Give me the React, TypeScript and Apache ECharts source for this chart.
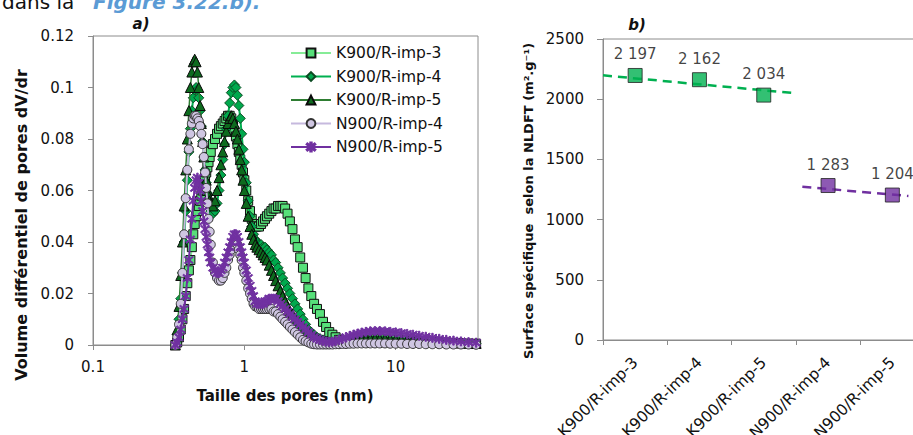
import React, { useEffect, useRef } from 'react';
import * as echarts from 'echarts';

// ---------- Data: pore size distribution (a) ----------
const poreSize = [
  0.35, 0.36, 0.37, 0.38, 0.39, 0.40, 0.41, 0.42, 0.43, 0.44,
  0.45, 0.46, 0.47, 0.48, 0.49, 0.50, 0.51, 0.52, 0.53, 0.54,
  0.55, 0.56, 0.57, 0.58, 0.59, 0.60, 0.62, 0.64, 0.66, 0.68,
  0.70, 0.72, 0.74, 0.76, 0.78, 0.80, 0.82, 0.84, 0.86, 0.88,
  0.90, 0.92, 0.94, 0.96, 0.98, 1.00, 1.03, 1.06, 1.09, 1.12,
  1.15, 1.18, 1.21, 1.25, 1.29, 1.33, 1.37, 1.41, 1.46, 1.51,
  1.56, 1.61, 1.67, 1.73, 1.79, 1.86, 1.93, 2.00, 2.08, 2.16,
  2.25, 2.34, 2.44, 2.54, 2.65, 2.77, 2.89, 3.02, 3.16, 3.31,
  3.47, 3.64, 3.82, 4.01, 4.22, 4.45, 4.70, 4.97, 5.27, 5.60,
  5.96, 6.36, 6.80, 7.30, 7.85, 8.50, 9.20, 10.0, 10.9, 11.9,
  13.0, 14.3, 15.8, 17.5, 19.4, 21.6, 24.1, 27.0, 30.3, 34.0,
];

const k900imp3 = [
  0, 0.001, 0.003, 0.006, 0.010, 0.014, 0.019, 0.024, 0.029, 0.033,
  0.038, 0.043, 0.047, 0.050, 0.052, 0.054, 0.056, 0.058, 0.060, 0.062,
  0.065, 0.067, 0.069, 0.071, 0.073, 0.075, 0.078, 0.080, 0.082, 0.084,
  0.085, 0.086, 0.087, 0.088, 0.089, 0.089, 0.088, 0.086, 0.083, 0.081,
  0.078, 0.075, 0.072, 0.070, 0.067, 0.064, 0.060, 0.056, 0.052, 0.049,
  0.047, 0.046, 0.046, 0.046, 0.047, 0.048, 0.049, 0.050, 0.051, 0.052,
  0.053, 0.053, 0.054, 0.054, 0.054, 0.053, 0.051, 0.048, 0.045, 0.041,
  0.038, 0.034, 0.030, 0.026, 0.022, 0.019, 0.016, 0.014, 0.012, 0.009,
  0.007, 0.005, 0.004, 0.003, 0.002, 0.0015, 0.0013, 0.0013, 0.0015, 0.0017,
  0.0019, 0.0020, 0.0021, 0.0022, 0.0022, 0.0022, 0.0021, 0.0020, 0.0019, 0.0018,
  0.0017, 0.0015, 0.0014, 0.0012, 0.0011, 0.0010, 0.0008, 0.0007, 0.0006, 0.0005,
];

const k900imp4 = [
  0, 0.004, 0.010, 0.018, 0.028, 0.040, 0.052, 0.064, 0.075, 0.084,
  0.091, 0.096, 0.099, 0.100, 0.099, 0.096, 0.091, 0.085, 0.079, 0.073,
  0.068, 0.063, 0.059, 0.056, 0.054, 0.052, 0.051, 0.052, 0.055, 0.060,
  0.066, 0.072, 0.078, 0.084, 0.089, 0.094, 0.098, 0.100, 0.101, 0.100,
  0.097, 0.093, 0.088, 0.082, 0.076, 0.071, 0.063, 0.056, 0.050, 0.046,
  0.043, 0.041, 0.040, 0.039, 0.039, 0.038, 0.038, 0.037, 0.036, 0.035,
  0.033, 0.032, 0.030, 0.028, 0.026, 0.024, 0.022, 0.020, 0.018, 0.016,
  0.014, 0.012, 0.010, 0.008, 0.006, 0.005, 0.004, 0.003, 0.0025, 0.002,
  0.0015, 0.0012, 0.0010, 0.0009, 0.0010, 0.0011, 0.0013, 0.0015, 0.0017, 0.0019,
  0.0020, 0.0021, 0.0022, 0.0022, 0.0022, 0.0021, 0.0020, 0.0019, 0.0018, 0.0017,
  0.0015, 0.0014, 0.0013, 0.0012, 0.0010, 0.0009, 0.0008, 0.0007, 0.0006, 0.0005,
];

const k900imp5 = [
  0, 0.006, 0.015, 0.027, 0.040, 0.054, 0.068, 0.080, 0.091, 0.100,
  0.106, 0.110, 0.111, 0.110, 0.106, 0.100, 0.093, 0.086, 0.079, 0.073,
  0.068, 0.064, 0.060, 0.058, 0.056, 0.055, 0.054, 0.056, 0.060, 0.065,
  0.070, 0.075, 0.079, 0.083, 0.086, 0.088, 0.089, 0.088, 0.086, 0.083,
  0.080, 0.076, 0.072, 0.068, 0.064, 0.060, 0.055, 0.050, 0.046, 0.043,
  0.041, 0.039, 0.038, 0.037, 0.036, 0.035, 0.034, 0.033, 0.031, 0.029,
  0.027, 0.025, 0.023, 0.021, 0.019, 0.017, 0.015, 0.013, 0.012, 0.010,
  0.009, 0.008, 0.007, 0.006, 0.005, 0.004, 0.003, 0.0025, 0.002, 0.0016,
  0.0013, 0.0011, 0.0010, 0.0010, 0.0011, 0.0012, 0.0014, 0.0016, 0.0018, 0.0020,
  0.0022, 0.0023, 0.0024, 0.0024, 0.0024, 0.0023, 0.0022, 0.0021, 0.0020, 0.0018,
  0.0017, 0.0015, 0.0014, 0.0012, 0.0011, 0.0010, 0.0009, 0.0008, 0.0007, 0.0006,
];

const n900imp4 = [
  0, 0.003, 0.008, 0.016, 0.028, 0.043, 0.057, 0.068, 0.076, 0.082,
  0.086, 0.088, 0.089, 0.089, 0.088, 0.087, 0.085, 0.082, 0.078, 0.073,
  0.067, 0.061, 0.055, 0.049, 0.044, 0.039, 0.032, 0.028, 0.026, 0.025,
  0.025, 0.026, 0.028, 0.030, 0.033, 0.035, 0.037, 0.039, 0.040, 0.040,
  0.039, 0.037, 0.035, 0.033, 0.030, 0.028, 0.025, 0.022, 0.020, 0.018,
  0.016, 0.015, 0.015, 0.014, 0.014, 0.014, 0.014, 0.014, 0.014, 0.014,
  0.013, 0.013, 0.012, 0.011, 0.010, 0.009, 0.008, 0.007, 0.006, 0.005,
  0.004, 0.003, 0.002, 0.0015, 0.001, 0.0005, 0.0003, 0.0002, 0.0002, 0.0002,
  0.0002, 0.0002, 0.0002, 0.0003, 0.0003, 0.0004, 0.0004, 0.0005, 0.0005, 0.0006,
  0.0006, 0.0006, 0.0006, 0.0006, 0.0006, 0.0006, 0.0005, 0.0005, 0.0005, 0.0004,
  0.0004, 0.0004, 0.0003, 0.0003, 0.0003, 0.0002, 0.0002, 0.0002, 0.0002, 0.0001,
];

const n900imp5 = [
  0, 0.001, 0.003, 0.006, 0.010, 0.014, 0.019, 0.026, 0.033, 0.041,
  0.049, 0.056, 0.061, 0.064, 0.065, 0.063, 0.060, 0.056, 0.052, 0.048,
  0.045, 0.042, 0.039, 0.036, 0.034, 0.032, 0.030, 0.029, 0.028, 0.028,
  0.029, 0.030, 0.032, 0.034, 0.036, 0.038, 0.040, 0.042, 0.043, 0.043,
  0.042, 0.040, 0.038, 0.036, 0.034, 0.032, 0.029, 0.026, 0.023, 0.021,
  0.019, 0.017, 0.016, 0.016, 0.016, 0.016, 0.017, 0.017, 0.018, 0.018,
  0.018, 0.018, 0.017, 0.016, 0.015, 0.014, 0.013, 0.012, 0.011, 0.010,
  0.009, 0.008, 0.007, 0.006, 0.005, 0.004, 0.003, 0.0025, 0.002, 0.0016,
  0.0013, 0.0012, 0.0013, 0.0016, 0.0020, 0.0025, 0.0030, 0.0035, 0.0040, 0.0044,
  0.0048, 0.0051, 0.0053, 0.0054, 0.0054, 0.0053, 0.0051, 0.0049, 0.0046, 0.0043,
  0.0040, 0.0036, 0.0032, 0.0028, 0.0024, 0.0020, 0.0017, 0.0014, 0.0011, 0.0009,
];

const seriesNames = ['K900/R-imp-3', 'K900/R-imp-4', 'K900/R-imp-5', 'N900/R-imp-4', 'N900/R-imp-5'];

// ---------- Data: specific surface (b) ----------
const surfaceCategories = ['K900/R-imp-3', 'K900/R-imp-4', 'K900/R-imp-5', 'N900/R-imp-4', 'N900/R-imp-5'];
const surfaceK = [2197, 2162, 2034];
const surfaceN = [1283, 1204];
// dashed trend lines: [position along category axis (0..5), value]
const trendKPos = [0, 3];
const trendKVal = [2198, 2049];
const trendNPos = [3.1, 4.75];
const trendNVal = [1273, 1196];

const yTicksLeft = { min: 0, max: 0.12, interval: 0.02 };
const yTicksRight = { min: 0, max: 2500, interval: 500 };

const FONT = '"DejaVu Sans", Verdana, sans-serif';
const AXIS_GRAY = '#8c8c8c';
const TXT = '#111111';

const starPath =
  'path://M4.3,0h1.4v10h-1.4z M0.6,1.9L1.4,0.8L9.4,8.1L8.6,9.2z M9.4,1.9L8.6,0.8L0.6,8.1L1.4,9.2z';

const styles = [
  { line: '#86EC97', fill: '#57E07A', border: '#111', symbol: 'rect', size: 9, lw: 2 },
  { line: '#00B050', fill: '#00A94D', border: '#0b4a22', symbol: 'diamond', size: 10, lw: 2 },
  { line: '#2E7D32', fill: '#0D6B1E', border: '#0a0a0a', symbol: 'triangle', size: 10, lw: 1.5 },
  { line: '#C6B9DE', fill: '#CFC6E2', border: '#333', symbol: 'circle', size: 9, lw: 2 },
  { line: '#7030A0', fill: '#7436A6', border: '#7030A0', symbol: starPath, size: 9, lw: 2 },
];

const fmtThousands = (v: number) => {
  const th = Math.floor(v / 1000);
  const rest = String(v % 1000).padStart(3, '0');
  return th > 0 ? `${th} ${rest}` : String(v);
};

export default function App() {
  const ref = useRef<HTMLDivElement>(null);

  useEffect(() => {
    if (!ref.current) return;
    const chart = echarts.init(ref.current, undefined, { renderer: 'svg' });

    const leftData = [k900imp3, k900imp4, k900imp5, n900imp4, n900imp5];
    const leftSeries = leftData.map((arr, i) => ({
      name: seriesNames[i],
      type: 'line',
      xAxisIndex: 0,
      yAxisIndex: 0,
      data: poreSize.map((x, j) => [x, arr[j]]),
      showAllSymbol: true,
      symbol: styles[i].symbol,
      symbolSize: styles[i].size,
      lineStyle: { color: styles[i].line, width: styles[i].lw },
      itemStyle: { color: styles[i].fill, borderColor: styles[i].border, borderWidth: 1 },
      emphasis: { disabled: true },
      z: 2 + i,
    }));

    const kPoints = surfaceCategories.map((_, i) => (i < surfaceK.length ? surfaceK[i] : '-'));
    const nPoints = surfaceCategories.map((_, i) =>
      i >= surfaceK.length ? surfaceN[i - surfaceK.length] : '-'
    );

    const labelCfg = {
      show: true,
      position: 'top',
      distance: 6,
      fontSize: 15,
      color: TXT,
      fontFamily: FONT,
      formatter: (p: any) => fmtThousands(p.value),
    };

    const option: any = {
      animation: false,
      textStyle: { fontFamily: FONT },
      grid: [
        { left: 93, top: 36, width: 385, height: 309, show: true, borderColor: AXIS_GRAY, borderWidth: 1, containLabel: false, outerBoundsMode: 'none' },
        { left: 603, top: 39, width: 321.5, height: 301, show: true, borderColor: AXIS_GRAY, borderWidth: 1, containLabel: false, outerBoundsMode: 'none' },
      ],
      xAxis: [
        {
          type: 'log',
          logBase: 10,
          gridIndex: 0,
          min: 0.1,
          max: 35,
          axisLine: { lineStyle: { color: AXIS_GRAY } },
          axisTick: { show: true, length: 5, lineStyle: { color: AXIS_GRAY } },
          minorTick: { show: false },
          splitLine: { show: false },
          axisLabel: {
            fontSize: 15,
            color: TXT,
            margin: 14,
            showMaxLabel: false,
            formatter: (v: number) => {
              const l = Math.log10(v);
              return Math.abs(l - Math.round(l)) < 1e-6 ? String(Number(v.toPrecision(6))) : '';
            },
          },
        },
        {
          type: 'category',
          gridIndex: 1,
          data: surfaceCategories,
          boundaryGap: true,
          axisLine: { lineStyle: { color: AXIS_GRAY } },
          axisTick: { show: true, length: 5, lineStyle: { color: AXIS_GRAY } },
          splitLine: { show: false },
          axisLabel: { rotate: 45, fontSize: 15.5, color: TXT, margin: 20, interval: 0 },
        },
        { type: 'value', gridIndex: 1, min: 0, max: 5, show: false },
      ],
      yAxis: [
        {
          type: 'value',
          gridIndex: 0,
          ...yTicksLeft,
          axisLine: { show: true, lineStyle: { color: AXIS_GRAY } },
          axisTick: { show: true, length: 5, lineStyle: { color: AXIS_GRAY } },
          splitLine: { show: false },
          axisLabel: { fontSize: 15, color: TXT, margin: 19 },
        },
        {
          type: 'value',
          gridIndex: 1,
          ...yTicksRight,
          axisLine: { show: true, lineStyle: { color: AXIS_GRAY } },
          axisTick: { show: true, length: 6, lineStyle: { color: AXIS_GRAY } },
          splitLine: { show: false },
          axisLabel: { fontSize: 15, color: TXT, margin: 19, formatter: (v: number) => String(v) },
        },
      ],
      legend: {
        data: seriesNames,
        orient: 'vertical',
        left: 290,
        top: 45,
        padding: 0,
        itemWidth: 40,
        itemHeight: 11,
        itemGap: 7.5,
        selectedMode: false,
        textStyle: { fontSize: 15.5, color: TXT, fontFamily: FONT, lineHeight: 16 },
      },
      series: [
        ...leftSeries,
        {
          name: 'trendK',
          type: 'line',
          xAxisIndex: 2,
          yAxisIndex: 1,
          data: trendKPos.map((p, i) => [p, trendKVal[i]]),
          symbol: 'none',
          lineStyle: { color: '#00B050', width: 2.5, type: [9, 6] },
          z: 2,
        },
        {
          name: 'trendN',
          type: 'line',
          xAxisIndex: 2,
          yAxisIndex: 1,
          data: trendNPos.map((p, i) => [p, trendNVal[i]]),
          symbol: 'none',
          lineStyle: { color: '#7030A0', width: 2.5, type: [9, 6] },
          z: 2,
        },
        {
          name: 'surfK',
          type: 'scatter',
          xAxisIndex: 1,
          yAxisIndex: 1,
          data: kPoints,
          symbol: 'rect',
          symbolSize: 14,
          itemStyle: { color: '#00B050', borderColor: '#222', borderWidth: 1 },
          label: labelCfg,
          z: 5,
        },
        {
          name: 'surfN',
          type: 'scatter',
          xAxisIndex: 1,
          yAxisIndex: 1,
          data: nPoints,
          symbol: 'rect',
          symbolSize: 14,
          itemStyle: { color: '#7030A0', borderColor: '#222', borderWidth: 1 },
          label: labelCfg,
          z: 5,
        },
      ],
      graphic: [
        {
          type: 'text',
          x: 2,
          y: 12,
          style: { text: 'dans la', fontSize: 20, fontFamily: FONT, fill: '#111', verticalAlign: 'bottom' },
        },
        {
          type: 'text',
          x: 93,
          y: 12,
          style: {
            text: 'Figure 3.22.b).',
            fontSize: 20,
            fontWeight: 'bold',
            fontStyle: 'italic',
            fontFamily: FONT,
            fill: '#5B9BD5',
            verticalAlign: 'bottom',
          },
        },
        {
          type: 'text',
          x: 141,
          y: 24,
          style: { text: 'a)', fontSize: 15, fontWeight: 'bold', fontStyle: 'italic', fontFamily: FONT, fill: '#111', align: 'center', verticalAlign: 'middle' },
        },
        {
          type: 'text',
          x: 637,
          y: 25,
          style: { text: 'b)', fontSize: 15, fontWeight: 'bold', fontStyle: 'italic', fontFamily: FONT, fill: '#111', align: 'center', verticalAlign: 'middle' },
        },
        {
          type: 'text',
          x: 21,
          y: 225,
          rotation: Math.PI / 2,
          style: { text: 'Volume différentiel de pores dV/dr', fontSize: 16, fontWeight: 'bold', fontFamily: FONT, fill: '#111', align: 'center', verticalAlign: 'middle' },
        },
        {
          type: 'text',
          x: 285,
          y: 396,
          style: { text: 'Taille des pores (nm)', fontSize: 15, fontWeight: 'bold', fontFamily: FONT, fill: '#111', align: 'center', verticalAlign: 'middle' },
        },
        {
          type: 'text',
          x: 528,
          y: 201,
          rotation: Math.PI / 2,
          style: { text: 'Surface spécifique  selon la NLDFT (m².g⁻¹)', fontSize: 13, fontWeight: 'bold', fontFamily: FONT, fill: '#111', align: 'center', verticalAlign: 'middle' },
        },
      ],
    };

    chart.setOption(option);
    return () => chart.dispose();
  }, []);

  return (
    <div
      ref={ref}
      style={{ position: 'absolute', left: 0, top: 0, width: 913, height: 435, background: '#fff' }}
    />
  );
}
